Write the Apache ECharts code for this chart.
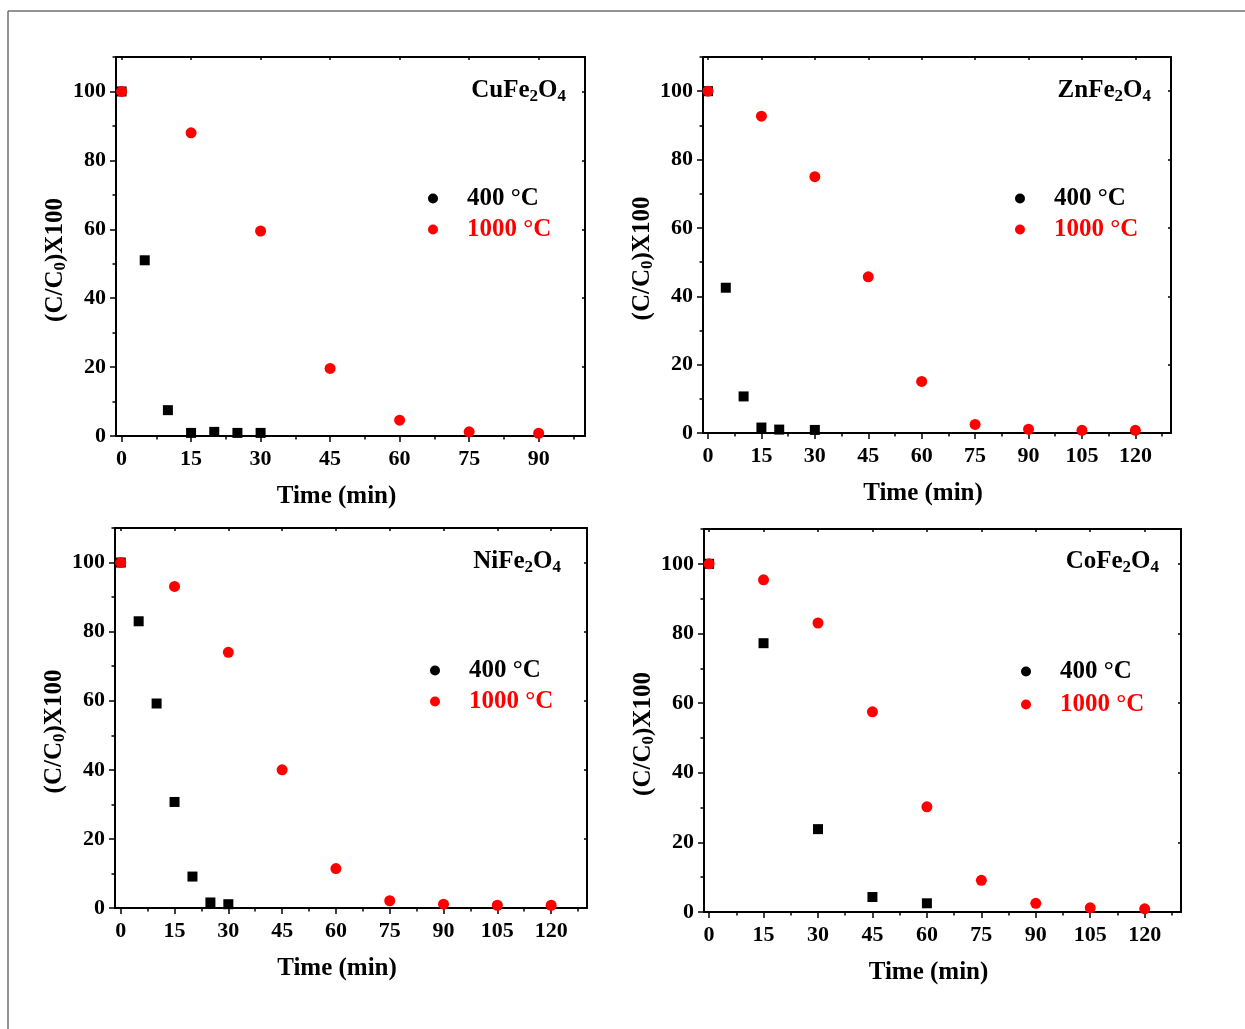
<!DOCTYPE html>
<html>
<head>
<meta charset="utf-8">
<script src="https://cdn.jsdelivr.net/npm/echarts@6/dist/echarts.min.js"></script>
<style>html,body{margin:0;padding:0;background:#fff}#c{width:1245px;height:1029px}</style>
</head>
<body>
<div id="c"></div>
<script>
// ---- data ----
const seriesNames = ['400 °C', '1000 °C'];
const panelLabels = ['CuFe', 'ZnFe', 'NiFe', 'CoFe'];

const cuX400 = [0, 5, 10, 15, 20, 25, 30];
const cuY400 = [100, 51, 7.5, 0.9, 1.2, 0.9, 0.9];
const cuX1000 = [0, 15, 30, 45, 60, 75, 90];
const cuY1000 = [100, 88, 59.5, 19.6, 4.6, 1.2, 0.8];

const znX400 = [0, 5, 10, 15, 20, 30];
const znY400 = [100, 42.5, 10.7, 1.6, 1.0, 0.9];
const znX1000 = [0, 15, 30, 45, 60, 75, 90, 105, 120];
const znY1000 = [100, 92.7, 75, 45.7, 15.1, 2.5, 1.1, 0.8, 0.8];

const niX400 = [0, 5, 10, 15, 20, 25, 30];
const niY400 = [100, 83, 59.2, 30.7, 9.1, 1.6, 1.1];
const niX1000 = [0, 15, 30, 45, 60, 75, 90, 105, 120];
const niY1000 = [100, 93.1, 74, 40, 11.4, 2.1, 1.1, 0.8, 0.8];

const coX400 = [0, 15, 30, 45, 60];
const coY400 = [100, 77.2, 23.8, 4.3, 2.5];
const coX1000 = [0, 15, 30, 45, 60, 75, 90, 105, 120];
const coY1000 = [100, 95.4, 83, 57.5, 30.2, 9.1, 2.5, 1.2, 0.9];

const xTicks90 = [0, 15, 30, 45, 60, 75, 90];
const xTicks120 = [0, 15, 30, 45, 60, 75, 90, 105, 120];
const yTicks = [0, 20, 40, 60, 80, 100];

// ---- layout ----
const FONT = '"Liberation Serif", "Times New Roman", serif';
const panels = [
  {left: 116, top: 57, width: 469, height: 379, xmin: -1.2, xmax: 100, ticks: xTicks90,
   x4: cuX400, y4: cuY400, x10: cuX1000, y10: cuY1000, lab: panelLabels[0], labX: 566, labY: 91,
   legL: 428, legT: 186, gap: 6},
  {left: 703, top: 57, width: 468, height: 376, xmin: -1.4, xmax: 130, ticks: xTicks120,
   x4: znX400, y4: znY400, x10: znX1000, y10: znY1000, lab: panelLabels[1], labX: 1151, labY: 91,
   legL: 1015, legT: 186, gap: 6},
  {left: 115, top: 528, width: 472, height: 380, xmin: -1.6, xmax: 130, ticks: xTicks120,
   x4: niX400, y4: niY400, x10: niX1000, y10: niY1000, lab: panelLabels[2], labX: 561, labY: 562,
   legL: 430, legT: 658, gap: 6},
  {left: 704, top: 529, width: 477, height: 383, xmin: -1.4, xmax: 130, ticks: xTicks120,
   x4: coX400, y4: coY400, x10: coX1000, y10: coY1000, lab: panelLabels[3], labX: 1159, labY: 562,
   legL: 1021, legT: 659, gap: 8}
];

const grids = [], xAxes = [], yAxes = [], series = [], legends = [], graphics = [];
const lineStyle = {color: '#000', width: 2};
const tickStyle = {color: '#000', width: 1.5};
const labelStyle = {color: '#000', fontSize: 22, fontWeight: 'bold', fontFamily: FONT};
const nameStyle = {color: '#000', fontSize: 25, fontWeight: 'bold', fontFamily: FONT};

panels.forEach((p, i) => {
  grids.push({left: p.left, top: p.top, width: p.width, height: p.height, containLabel: false});
  const minorX = p.ticks.map(v => v + 7.5).filter(v => v < p.xmax);
  const minorY = yTicks.map(v => v + 10);
  // x axes: main bottom, minor bottom, top
  xAxes.push({
    gridIndex: i, type: 'value', position: 'bottom', min: p.xmin, max: p.xmax,
    axisLine: {show: true, onZero: false, lineStyle},
    axisTick: {show: true, customValues: p.ticks, length: 6, lineStyle: tickStyle},
    axisLabel: {show: true, customValues: p.ticks, margin: 12, ...labelStyle},
    splitLine: {show: false},
    name: 'Time (min)', nameLocation: 'middle', nameGap: 48,
    nameTextStyle: {...nameStyle, padding: [0, 28, 0, 0]}
  });
  xAxes.push({
    gridIndex: i, type: 'value', position: 'bottom', min: p.xmin, max: p.xmax,
    axisLine: {show: false, onZero: false},
    axisTick: {show: true, customValues: minorX, length: 3.5, lineStyle: tickStyle},
    axisLabel: {show: false, customValues: minorX},
    splitLine: {show: false}
  });
  xAxes.push({
    gridIndex: i, type: 'value', position: 'top', min: p.xmin, max: p.xmax,
    axisLine: {show: true, onZero: false, lineStyle},
    axisTick: {show: true, customValues: p.ticks, length: 3, inside: true, lineStyle: tickStyle},
    axisLabel: {show: false, customValues: p.ticks},
    splitLine: {show: false}
  });
  // y axes: main left, minor left, right
  yAxes.push({
    gridIndex: i, type: 'value', position: 'left', min: 0, max: 110,
    axisLine: {show: true, onZero: false, lineStyle},
    axisTick: {show: true, customValues: yTicks, length: 6, lineStyle: tickStyle},
    axisLabel: {show: true, customValues: yTicks, margin: 10, ...labelStyle},
    splitLine: {show: false},
    name: '(C/C{s|0})X100', nameLocation: 'middle', nameGap: 47,
    nameTextStyle: {...nameStyle, padding: [0, 27, 0, 0],
      rich: {s: {fontSize: 17, fontWeight: 'bold', fontFamily: FONT, color: '#000', padding: [10, 0, 0, 0]}}}
  });
  yAxes.push({
    gridIndex: i, type: 'value', position: 'left', min: 0, max: 110,
    axisLine: {show: false, onZero: false},
    axisTick: {show: true, customValues: minorY, length: 3.5, lineStyle: tickStyle},
    axisLabel: {show: false, customValues: minorY},
    splitLine: {show: false}
  });
  yAxes.push({
    gridIndex: i, type: 'value', position: 'right', min: 0, max: 110,
    axisLine: {show: true, onZero: false, lineStyle},
    axisTick: {show: true, customValues: yTicks, length: 3, inside: true, lineStyle: tickStyle},
    axisLabel: {show: false, customValues: yTicks},
    splitLine: {show: false}
  });
  series.push({
    name: seriesNames[0], type: 'scatter', xAxisIndex: 3 * i, yAxisIndex: 3 * i,
    symbol: 'rect', symbolSize: 10, itemStyle: {color: '#000', opacity: 1},
    data: p.x4.map((x, k) => [x, p.y4[k]]), z: 2
  });
  series.push({
    name: seriesNames[1], type: 'scatter', xAxisIndex: 3 * i, yAxisIndex: 3 * i,
    symbol: 'circle', symbolSize: 11, itemStyle: {color: '#ff0000', opacity: 1},
    data: p.x10.map((x, k) => [x, p.y10[k]]), z: 3
  });
  legends.push({
    left: p.legL, top: p.legT, orient: 'vertical', itemWidth: 10, itemHeight: 10, itemGap: p.gap,
    padding: 0, selectedMode: false,
    textStyle: {fontSize: 25, fontWeight: 'bold', fontFamily: FONT, padding: [0, 0, 0, 24]},
    data: [
      {name: seriesNames[0], icon: 'circle', itemStyle: {color: '#000', opacity: 1}, textStyle: {color: '#000'}},
      {name: seriesNames[1], icon: 'circle', itemStyle: {color: '#ff0000', opacity: 1}, textStyle: {color: '#ff0000'}}
    ]
  });
  graphics.push({
    type: 'text', x: p.labX, y: p.labY, z: 10,
    style: {
      text: '{a|' + p.lab + '}{s|2}{a|O}{s|4}', align: 'right', verticalAlign: 'middle',
      rich: {
        a: {fontSize: 25, fontWeight: 'bold', fontFamily: FONT, fill: '#000', color: '#000'},
        s: {fontSize: 17, fontWeight: 'bold', fontFamily: FONT, fill: '#000', color: '#000', padding: [11, 0, 0, 0]}
      }
    }
  });
});

// outer frame (top and left edges visible)
graphics.push({type: 'line', shape: {x1: 8, y1: 11, x2: 1245, y2: 11}, style: {stroke: '#707070', lineWidth: 1.5}});
graphics.push({type: 'line', shape: {x1: 8, y1: 11, x2: 8, y2: 1029}, style: {stroke: '#707070', lineWidth: 1.5}});

const chart = echarts.init(document.getElementById('c'), null, {renderer: 'canvas'});
chart.setOption({
  animation: false,
  backgroundColor: '#fff',
  grid: grids, xAxis: xAxes, yAxis: yAxes, series, legend: legends, graphic: graphics
});
</script>
</body>
</html>
